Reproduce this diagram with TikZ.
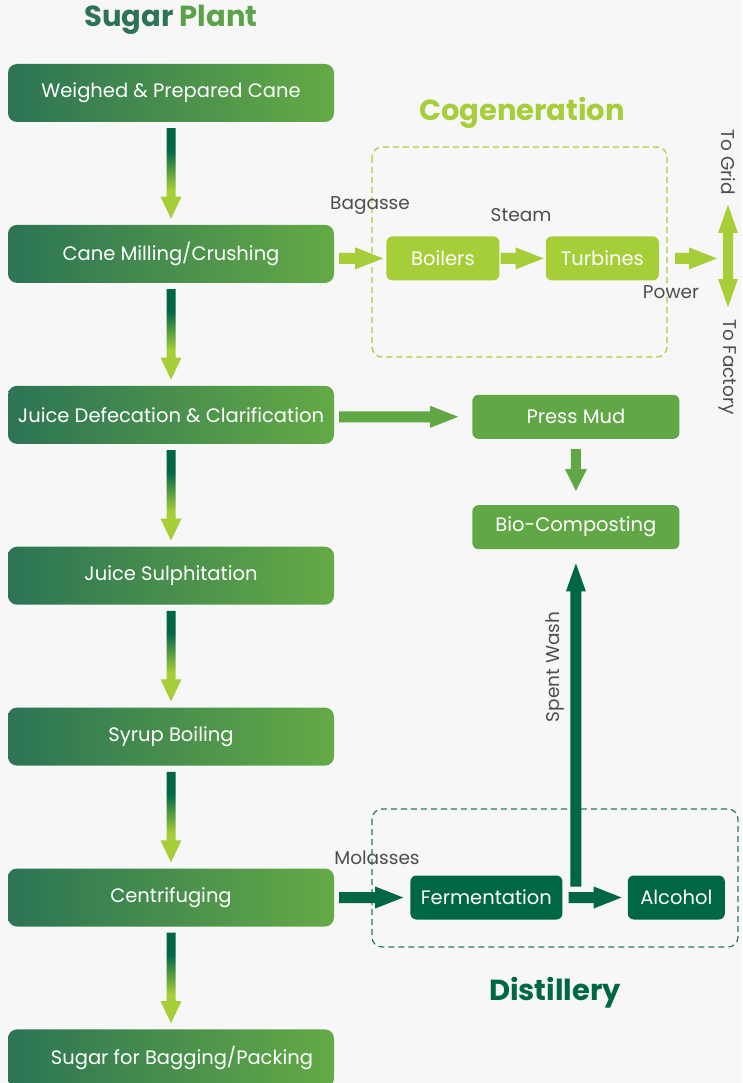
\documentclass[tikz,border=0pt]{standalone}
\usepackage{fontspec}
\setmainfont{Poppins}
\usetikzlibrary{positioning,calc}
\definecolor{PlantDark}{RGB}{44,116,84}
\definecolor{PlantLight}{RGB}{100,170,70}
\definecolor{LimeGreen}{RGB}{166,206,57}
\definecolor{LeafGreen}{RGB}{98,167,69}
\definecolor{DeepGreen}{RGB}{0,103,70}
\definecolor{FrameGreen}{RGB}{40,120,88}
\definecolor{LabelGrey}{RGB}{77,77,77}
\definecolor{PageGrey}{RGB}{247,247,247}
\pgfdeclareverticalshading{stemfade}{100bp}{color(0bp)=(LimeGreen); color(41bp)=(LimeGreen); color(63bp)=(DeepGreen); color(100bp)=(DeepGreen)}
\tikzset{
  plantbox/.style={rounded corners=9pt,left color=PlantDark,right color=PlantLight,
    minimum width=326pt,minimum height=58pt,inner sep=0pt,text=white,
    font=\fontsize{19.5}{23}\selectfont},
  limebox/.style={fill=LimeGreen,rounded corners=6pt,minimum height=44pt,
    inner sep=0pt,text=white,font=\fontsize{19.5}{23}\selectfont},
  leafbox/.style={limebox,fill=LeafGreen},
  deepbox/.style={limebox,fill=DeepGreen},
  flowlabel/.style={text=LabelGrey,inner sep=0pt,font=\fontsize{18.5}{22}\selectfont},
  heading/.style={inner sep=0pt,font=\fontsize{29}{34}\selectfont\bfseries},
  cogenframe/.style={draw=LimeGreen,dash pattern=on 6pt off 4pt,rounded corners=10pt,line width=1.2pt},
  distframe/.style={draw=FrameGreen,dash pattern=on 6pt off 4pt,rounded corners=10pt,line width=1.2pt}
}
% shaded stem arrow between two boxes of the sugar line
\newcommand{\downfade}[2]{%
  \shade[shading=stemfade] let \p1=(#1.south), \p2=(#2.north) in
    (\x1-4.5pt,\y1-6pt) -- (\x1-4.5pt,\y2+28pt) -- (\x1-10.5pt,\y2+28pt) -- (\x1,\y2+6pt)
    -- (\x1+10.5pt,\y2+28pt) -- (\x1+4.5pt,\y2+28pt) -- (\x1+4.5pt,\y1-6pt) -- cycle;}
% block arrows: colour, start, tip
\newcommand{\rightblock}[3]{%
  \fill[#1] let \p1=(#2), \p2=(#3) in
    (\x1,\y1+5.5pt) -- (\x2-28pt,\y1+5.5pt) -- (\x2-28pt,\y1+11pt) -- (\x2,\y1)
    -- (\x2-28pt,\y1-11pt) -- (\x2-28pt,\y1-5.5pt) -- (\x1,\y1-5.5pt) -- cycle;}
\newcommand{\downblock}[3]{%
  \fill[#1] let \p1=(#2), \p2=(#3) in
    (\x1-5pt,\y1) -- (\x1-5pt,\y2+22pt) -- (\x1-11pt,\y2+22pt) -- (\x1,\y2)
    -- (\x1+11pt,\y2+22pt) -- (\x1+5pt,\y2+22pt) -- (\x1+5pt,\y1) -- cycle;}
\newcommand{\upblock}[3]{%
  \fill[#1] let \p1=(#2), \p2=(#3) in
    (\x1-5.5pt,\y1) -- (\x1-5.5pt,\y2-28pt) -- (\x1-10pt,\y2-28pt) -- (\x1,\y2)
    -- (\x1+10pt,\y2-28pt) -- (\x1+5.5pt,\y2-28pt) -- (\x1+5.5pt,\y1) -- cycle;}

\begin{document}
\begin{tikzpicture}[x=1pt,y=-1pt]
  \useasboundingbox (0,0) rectangle (742,1083);
  \fill[PageGrey] (0,0) rectangle (742,1083);

  % sugar plant line
  \node[heading] (plant) at (171,20) {\textcolor{PlantDark}{Sugar} \textcolor{PlantLight!85!PlantDark}{Plant}};
  \node[plantbox] (cane) at (171,93) {Weighed \& Prepared Cane};
  \node[plantbox,below=102.5pt of cane] (mill) {Cane Milling/Crushing};
  \node[plantbox,below=102.5pt of mill] (juice) {Juice Defecation \& Clarification};
  \node[plantbox,below=102.5pt of juice] (sulph) {Juice Sulphitation};
  \node[plantbox,below=102.5pt of sulph] (syrup) {Syrup Boiling};
  \node[plantbox,below=102.5pt of syrup] (cent) {Centrifuging};
  \node[plantbox,below=102.5pt of cent] (pack) {\hspace*{22pt}Sugar for Bagging/Packing};
  \downfade{cane}{mill}
  \downfade{mill}{juice}
  \downfade{juice}{sulph}
  \downfade{sulph}{syrup}
  \downfade{syrup}{cent}
  \downfade{cent}{pack}

  % cogeneration
  \node[heading,text=LimeGreen] (cogen) at (522,113) {Cogeneration};
  \draw[cogenframe] (372,147) rectangle (667,357);
  \node[limebox,minimum width=113pt,right=52pt of mill,yshift=-4.5pt] (boil) {Boilers};
  \node[limebox,minimum width=113pt,right=46pt of boil] (turb) {Turbines};
  \rightblock{LimeGreen}{$(mill.east |- boil.west)+(5,0)$}{$(boil.west)+(-3,0)$}
  \rightblock{LimeGreen}{$(boil.east)+(1,0)$}{$(turb.west)+(-2,0)$}
  \coordinate (split) at (728,256);
  \rightblock{LimeGreen}{$(turb.east)+(16,0)$}{$(split)+(-11,0)$}
  \coordinate (gridtip) at ($(split)+(0,-51)$);
  \coordinate (factorytip) at ($(split)+(0,51)$);
  \fill[LimeGreen] (gridtip) -- ($(gridtip)+(10,28)$) -- ($(gridtip)+(5,28)$)
    -- ($(factorytip)+(5,-28)$) -- ($(factorytip)+(10,-28)$) -- (factorytip)
    -- ($(factorytip)+(-10,-28)$) -- ($(factorytip)+(-5,-28)$)
    -- ($(gridtip)+(-5,28)$) -- ($(gridtip)+(-10,28)$) -- cycle;
  \node[flowlabel] (bagasse) at (370,206) {Bagasse};
  \node[flowlabel] (steam) at (521,215) {Steam};
  \node[flowlabel] (power) at (671,292) {Power};
  \node[flowlabel,rotate=-90] (grid) at (728,162) {To Grid};
  \node[flowlabel,rotate=-90] (factory) at (728,367) {To Factory};

  % press mud
  \node[leafbox,minimum width=207pt,right=138pt of juice,yshift=-2pt] (press) {Press Mud};
  \node[leafbox,minimum width=207pt,below=66pt of press] (bio) {Bio-Composting};
  \rightblock{LeafGreen}{$(juice.east |- press.west)+(5,0)$}{$(press.west)+(-14,0)$}
  \downblock{LeafGreen}{$(press.south)+(0,10)$}{$(bio.north)+(0,-14)$}

  % distillery
  \node[heading,text=DeepGreen] (dist) at (555,993) {Distillery};
  \draw[distframe] (372,809) rectangle (738,947);
  \node[deepbox,minimum width=152pt,right=76pt of cent] (ferm) {Fermentation};
  \node[deepbox,minimum width=97pt,right=65pt of ferm] (alc) {Alcohol};
  \rightblock{DeepGreen}{$(cent.east)+(5,0)$}{$(ferm.west)+(-7,0)$}
  \rightblock{DeepGreen}{$(ferm.east)+(6,0)$}{$(alc.west)+(-6,0)$}
  \coordinate (washfoot) at ($(bio.south |- ferm.east)+(0,-11)$);
  \upblock{DeepGreen}{washfoot}{$(bio.south)+(0,14)$}
  \node[flowlabel] (molasses) at (377,858) {Molasses};
  \node[flowlabel,rotate=90] (wash) at (555,667) {Spent Wash};
\end{tikzpicture}
\end{document}
